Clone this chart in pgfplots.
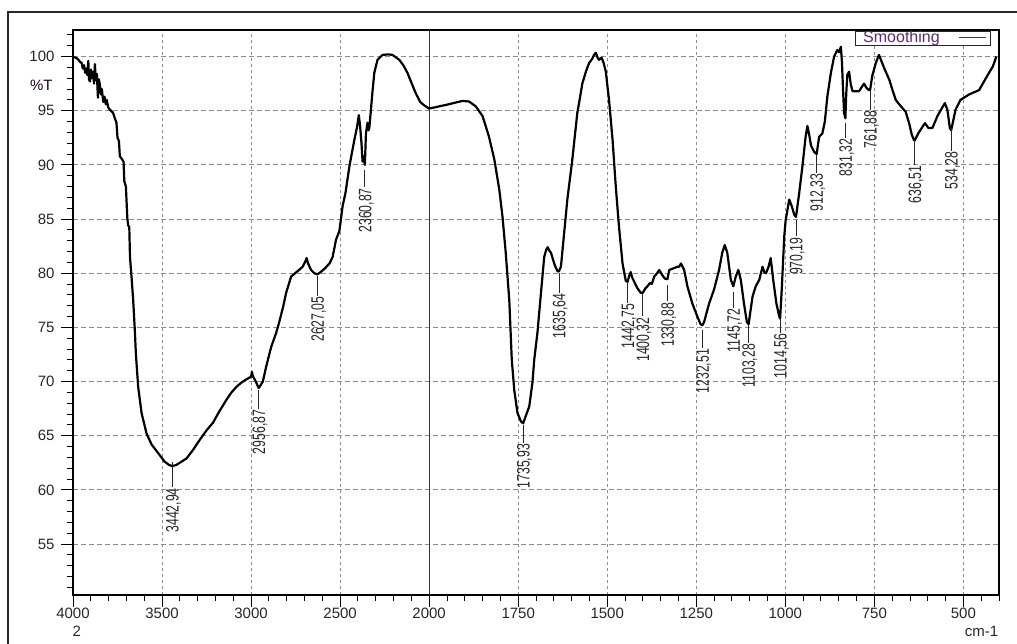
\documentclass[border=0pt]{standalone}
\usepackage{fontspec}
\setmainfont{Liberation Sans}
\newfontfamily\peakfont[FakeStretch=0.68]{Liberation Sans}
\usepackage{pgfplots}
\pgfplotsset{compat=1.18}
\usepackage{pgfplotstable}

\definecolor{gridgray}{HTML}{8C8C8C}
\definecolor{legtext}{HTML}{5A2E6A}

% FTIR spectrum: wavenumber (cm-1) and transmittance (%T)
\pgfplotstableread{
wn T
4000 100.0
3975 99.8
3960 99.5
3951 99.4
3945 98.9
3938 99.2
3932 98.5
3926 98.9
3920 98.3
3914 99.6
3910 97.9
3905 97.7
3899 98.8
3893 98.0
3888 98.6
3882 97.5
3877 99.3
3872 97.8
3866 98.4
3860 96.2
3855 97.9
3849 97.4
3843 96.5
3838 97.0
3830 95.8
3823 96.3
3816 95.6
3811 96.0
3802 95.3
3793 95.1
3775 94.8
3765 94.3
3756 93.9
3750 92.5
3742 92.2
3737 90.8
3728 90.6
3716 90.3
3712 88.5
3703 88.0
3695 85.1
3690 84.4
3684 84.3
3680 81.5
3672 79.8
3662 77.5
3653 74.8
3647 72.6
3634 69.5
3615 67.1
3587 65.2
3559 64.2
3522 63.4
3485 62.6
3460 62.3
3443 62.2
3420 62.3
3401 62.5
3363 62.9
3330 63.6
3289 64.6
3250 65.5
3214 66.2
3180 67.2
3139 68.3
3110 69.0
3083 69.5
3055 69.9
3027 70.2
3000 70.45
2995 70.9
2990 70.5
2980 70.2
2968 69.8
2957 69.4
2945 69.7
2934 70.0
2915 71.4
2887 73.2
2859 74.5
2845 75.3
2820 76.9
2803 78.2
2775 79.7
2738 80.2
2710 80.6
2695 81.1
2688 81.4
2680 80.9
2663 80.3
2645 80.0
2627 79.9
2610 80.1
2588 80.4
2560 80.9
2542 81.5
2523 83.1
2504 83.9
2486 86.2
2470 87.4
2448 89.85
2435 91.0
2420 92.3
2405 93.5
2395 94.6
2388 93.6
2380 92.0
2374 90.3
2368 90.8
2361 90.0
2355 92.9
2346 93.9
2340 93.2
2336 93.4
2327 95.1
2318 96.8
2308 98.5
2290 99.7
2262 100.15
2230 100.2
2206 100.15
2185 99.9
2168 99.7
2145 99.2
2122 98.5
2100 97.6
2075 96.6
2050 95.8
2028 95.5
2010 95.3
2000 95.2
1985 95.3
1972 95.4
1944 95.6
1920 95.8
1906 95.9
1888 95.85
1869 95.4
1850 94.5
1832 92.6
1817 90.5
1803 87.7
1794 85.2
1785 81.9
1775 77.5
1768 72.0
1761 69.2
1752 67.1
1742 66.3
1736 66.15
1729 66.8
1719 67.7
1710 69.9
1705 72.0
1696 74.5
1686 78.2
1677 81.5
1671 82.2
1667 82.4
1663 82.1
1658 81.9
1648 80.8
1640 80.2
1636 80.15
1630 80.6
1621 83.7
1612 86.8
1598 90.5
1584 94.8
1576 96.3
1570 97.5
1560 98.6
1551 99.4
1542 99.8
1537 100.15
1532 100.35
1527 99.9
1523 99.7
1516 99.9
1510 99.4
1504 98.6
1495 96.0
1485 92.3
1476 88.0
1467 84.3
1457 80.9
1448 79.3
1443 79.2
1438 79.8
1434 80.1
1430 79.6
1424 79.2
1415 78.6
1406 78.2
1400 78.2
1393 78.6
1387 78.8
1380 79.1
1375 79.0
1368 79.7
1360 80.0
1354 80.3
1345 79.8
1338 79.5
1331 79.45
1326 80.3
1318 80.4
1310 80.5
1303 80.6
1298 80.6
1293 80.9
1284 80.3
1275 78.8
1261 77.2
1247 76.0
1238 75.3
1233 75.2
1228 75.5
1214 77.2
1200 78.5
1186 80.3
1177 81.9
1170 82.6
1163 81.9
1153 79.4
1146 78.8
1139 79.7
1132 80.3
1125 79.4
1116 77.2
1108 75.5
1103 75.3
1100 76.0
1092 77.85
1083 78.8
1073 79.4
1064 80.6
1059 80.1
1054 80.0
1047 80.6
1041 81.4
1034 79.4
1025 77.2
1017 76.0
1014.6 75.8
1010 78.5
1003 83.4
999 84.9
989 86.8
982 86.2
975 85.4
970 85.2
961 87.4
952 89.85
943 92.6
938 93.6
933 92.8
928 91.8
919 91.2
912 91.0
905 92.6
896 92.9
889 94.0
882 96.3
872 98.5
863 100.0
854 100.6
849 100.4
844 100.9
841 99.5
838 97.0
835 94.8
831.3 94.3
829 96.5
826 98.3
821 98.6
816 97.4
811 96.8
793 96.8
779 97.5
772 97.1
765 96.9
762 96.9
756 98.2
746 99.4
737 100.15
728 99.4
722 98.9
708 97.85
698 96.8
690 96.0
678 95.5
662 94.9
652 93.8
645 92.8
639 92.3
636.5 92.25
627 92.9
615 93.5
608 93.85
598 93.4
587 93.4
573 94.5
561 95.2
552 95.7
545 95.1
538 93.4
534.3 93.2
531 93.7
522 95.1
508 96.0
484 96.5
456 96.9
442 97.7
428 98.5
417 99.1
407.5 100.0
}\spectrum

% peak marker: wavenumber, top and bottom of the leader line (%T), label
\newcommand{\peak}[4]{%
  \draw[line width=0.8pt, black!85]
    (axis cs:{wnu(#1)},#2) -- (axis cs:{wnu(#1)},#3)
    node[rotate=90, anchor=east, inner sep=0.6pt, text height=12.9pt, text depth=0pt,
         font=\peakfont\fontsize{18}{20}\selectfont, text=black!85] {#4};}

\begin{document}
\begin{tikzpicture}[declare function={wnu(\x)=(\x>1999.99)*(4000-\x)+(\x<1999.99)*(6000-2*\x);}]
\useasboundingbox (0pt,0pt) rectangle (1017pt,643pt);
% outer window frame
\draw[line width=2pt, black!85] (8.3pt,-5pt) -- (8.3pt,630.7pt) -- (1030pt,630.7pt);

\begin{axis}[
  at={(73pt,48pt)}, anchor=south west,
  scale only axis, width=926pt, height=565pt,
  xmin=0, xmax=5200, ymin=50.3, ymax=102.45,
  xtick={0,500,1000,1500,2000,2500,3000,3500,4000,4500,5000},
  xticklabels={4000,3500,3000,2500,2000,1750,1500,1250,1000,750,500},
  minor xtick={100,200,...,5200},
  ytick={55,60,...,100},
  minor ytick={51,52,...,102},
  tick pos=left, tick align=outside,
  major tick length=12pt, minor tick length=5.5pt,
  every tick/.style={black, line width=0.9pt},
  axis line style={line width=1.2pt, black},
  xmajorgrids, ymajorgrids,
  x grid style={gridgray, line width=0.9pt, dash pattern=on 3pt off 3pt},
  y grid style={gridgray, line width=0.9pt, dash pattern=on 5pt off 3pt},
  tick label style={font=\fontsize{15}{18}\selectfont, text=black!85},
  /pgf/number format/assume math mode=true,
  yticklabel style={xshift=-3pt},
  xticklabel style={yshift=3pt},
  clip=false,
]
% axis break at 2000 cm-1
\draw[line width=1pt, black!80] (axis cs:2000,50.3) -- (axis cs:2000,102.45);

\addplot[black, line width=2.2pt, line join=round, mark=none]
  table[x expr={wnu(\thisrow{wn})}, y=T] {\spectrum};

\peak{3442.94}{62.60}{60.24}{3442,94}
\peak{2956.87}{69.18}{67.49}{2956,87}
\peak{2627.05}{79.76}{77.92}{2627,05}
\peak{2360.87}{89.54}{87.93}{2360,87}
\peak{1735.93}{66.01}{64.32}{1735,93}
\peak{1635.64}{80.04}{78.19}{1635,64}
\peak{1442.75}{79.21}{77.27}{1442,75}
\peak{1400.32}{78.10}{76.01}{1400,32}
\peak{1330.88}{78.93}{77.39}{1330,88}
\peak{1232.51}{74.78}{73.09}{1232,51}
\peak{1145.72}{78.31}{76.81}{1145,72}
\peak{1103.28}{75.24}{73.55}{1103,28}
\peak{1014.56}{75.70}{74.50}{1014,56}
\peak{970.19}{84.93}{83.39}{970,19}
\peak{912.33}{90.93}{89.27}{912,33}
\peak{831.32}{93.88}{92.50}{831,32}
\peak{761.88}{96.93}{95.08}{761,88}
\peak{636.51}{92.31}{90.01}{636,51}
\peak{534.28}{93.42}{91.30}{534,28}
\end{axis}

% axis annotations
\node[anchor=east, inner sep=0pt, font=\fontsize{15}{18}\selectfont, text=black!80!violet]
  at (52.7pt,558pt) {\%T};
\node[inner sep=0pt, font=\fontsize{15}{18}\selectfont, text=black!85] at (76.7pt,12pt) {2};
\node[anchor=east, inner sep=0pt, font=\fontsize{15}{18}\selectfont, text=black!85]
  at (998.3pt,11.5pt) {cm-1};

% legend box
\fill[white] (855.7pt,598pt) rectangle (990.7pt,612pt);
\draw[line width=0.9pt, black!85] (855.7pt,598pt) rectangle (990.7pt,612pt);
\node[anchor=west, inner sep=0pt, font=\fontsize{16}{18}\selectfont, text=legtext]
  at (863pt,604.7pt) {Smoothing};
\draw[line width=0.9pt, black!75] (958.7pt,605.7pt) -- (986pt,605.7pt);
\end{tikzpicture}
\end{document}
